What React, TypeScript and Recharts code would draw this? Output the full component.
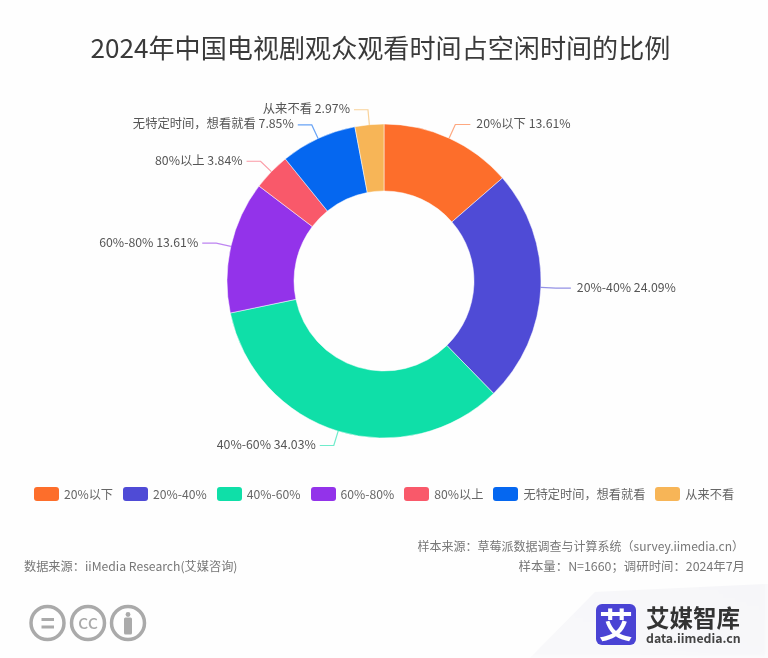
import { PieChart, Pie, Cell, Legend } from "recharts";

const categories = ["20%以下", "20%-40%", "40%-60%", "60%-80%", "80%以上", "无特定时间，想看就看", "从来不看"];
const shares = [13.61, 24.09, 34.03, 13.61, 3.84, 7.85, 2.97];
const colors = ["#fd6e2b", "#4f4bd6", "#0fdfa8", "#9333ea", "#f9596a", "#0567f0", "#f7b557"];

const rows = categories.map((name, i) => ({ name, value: shares[i] }));
const FONT = '"Noto Sans CJK SC", "Noto Sans", sans-serif';

function SliceLabel(props: any) {
  const { cx, cy, midAngle, outerRadius, index, name, value } = props;
  const rad = (midAngle * Math.PI) / 180;
  const cos = Math.cos(rad);
  const right = cos >= 0;
  const sx = cx + outerRadius * cos;
  const sy = cy - outerRadius * Math.sin(rad);
  const ex = cx + (outerRadius + 15) * cos;
  const ey = cy - (outerRadius + 15) * Math.sin(rad);
  const hx = ex + (right ? 15 : -14);
  return (
    <g>
      <path d={`M${sx},${sy}L${ex},${ey}L${hx},${ey}`} fill="none" stroke={colors[index]} strokeWidth={1.2} opacity={0.6} />
      <text
        x={hx + (right ? 6 : -4)}
        y={ey}
        dy={3.5}
        textAnchor={right ? "start" : "end"}
        fontSize={12.3}
        fill="#555"
        fontFamily={FONT}
      >
        {`${name} ${value.toFixed(2)}%`}
      </text>
    </g>
  );
}

function LegendRow({ payload }: any) {
  return (
    <div style={{ display: "flex", gap: 10, justifyContent: "center", fontSize: 12.2, color: "#666", fontFamily: FONT }}>
      {payload.map((p: any) => (
        <div key={p.value} style={{ display: "flex", alignItems: "center", gap: 5 }}>
          <span style={{ width: 25, height: 14, borderRadius: 3, background: p.color, display: "inline-block" }} />
          {p.value}
        </div>
      ))}
    </div>
  );
}

const abs = (left: number, top: number): React.CSSProperties => ({ position: "absolute", left, top, whiteSpace: "nowrap" });

export default function App() {
  return (
    <div style={{ position: "absolute", left: 0, top: 0, width: 768, height: 658, overflow: "hidden", background: "#fefefe", fontFamily: FONT, filter: "blur(0.35px)" }}>
      <div
        style={{
          position: "absolute", left: 0, top: 0, width: 768, height: 658,
          background: "linear-gradient(200deg, #f2f2f6 0%, #f6f6f9 60%, #fbfbfc 100%)",
          clipPath: "polygon(768px 584px, 595px 592px, 530px 658px, 768px 658px)",
          filter: "blur(3px)",
        }}
      />
      <div style={{ ...abs(0, 27), width: 761, textAlign: "center", fontSize: 26.1, color: "#3a3a3a", fontWeight: 400, lineHeight: "40px" }}>
        2024年中国电视剧观众观看时间占空闲时间的比例
      </div>

      <div style={{ position: "absolute", left: 0, top: 0 }}>
        <PieChart width={768} height={658} margin={{ top: 0, right: 0, bottom: 0, left: 0 }}>
          <Pie
            data={rows}
            dataKey="value"
            nameKey="name"
            cx={384}
            cy={281}
            innerRadius={90}
            outerRadius={157}
            startAngle={90}
            endAngle={-270}
            stroke="#fff"
            strokeWidth={0.5}
            label={SliceLabel}
            labelLine={false}
            isAnimationActive={false}
          >
            {rows.map((r, i) => (
              <Cell key={r.name} fill={colors[i]} />
            ))}
          </Pie>
          <Legend content={LegendRow} itemSorter={null} wrapperStyle={{ left: 0, top: 485, width: 768 }} />
        </PieChart>
      </div>

      <div style={{ ...abs(0, 537), right: 24, left: "auto", fontSize: 12, color: "#777" }}>样本来源：草莓派数据调查与计算系统（survey.iimedia.cn）</div>
      <div style={{ ...abs(24, 557), fontSize: 12.2, color: "#777" }}>数据来源：iiMedia Research(艾媒咨询)</div>
      <div style={{ ...abs(0, 557), right: 23, left: "auto", fontSize: 12.4, color: "#777" }}>样本量：N=1660；调研时间：2024年7月</div>

      <svg width={140} height={50} style={{ position: "absolute", left: 20, top: 598 }}>
        <g fill="none" stroke="#aaa" strokeWidth={3.5}>
          <circle cx={27.5} cy={25} r={16.5} />
          <circle cx={68} cy={25} r={16.5} />
          <circle cx={108} cy={25} r={16.5} />
        </g>
        <rect x={21.5} y={20} width={12.5} height={3} fill="#aaa" />
        <rect x={21.5} y={27.5} width={12.5} height={3} fill="#aaa" />
        <text x={68} y={31} textAnchor="middle" fontSize={20} fill="#aaa" fontFamily={FONT}>cc</text>
        <circle cx={108} cy={16.5} r={2.4} fill="#aaa" />
        <rect x={104} y={19.5} width={8} height={17} rx={1.5} fill="#aaa" />
      </svg>

      <div style={{ ...abs(596, 604), width: 40, height: 41, borderRadius: 6, background: "#4a43d4", color: "#fff", fontSize: 34, fontWeight: 700, textAlign: "center", lineHeight: "40px" }}>艾</div>
      <div style={{ ...abs(646, 605), fontSize: 23.5, fontWeight: 700, color: "#333", lineHeight: "24px" }}>艾媒智库</div>
      <div style={{ ...abs(646, 631), fontSize: 12.3, fontWeight: 700, color: "#444", lineHeight: "14px" }}>data.iimedia.cn</div>
    </div>
  );
}
